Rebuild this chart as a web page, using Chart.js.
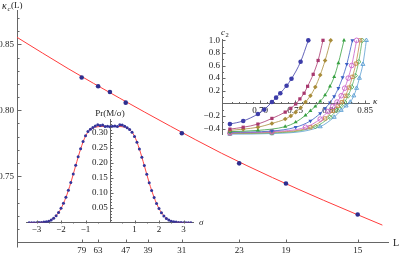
<!DOCTYPE html>
<html>
<head>
<meta charset="utf-8">
<script src="https://cdn.jsdelivr.net/npm/chart.js@4.4.1/dist/chart.umd.min.js"></script>
<style>
  html, body { margin: 0; padding: 0; background: #fff; }
  #wrap { position: relative; width: 401px; height: 254px; overflow: hidden; }
  canvas { position: absolute; }
</style>
</head>
<body>
<div id="wrap">
  <canvas id="mainChart" width="401" height="254" style="left:0;top:0"></canvas>
  <canvas id="prChart" width="212" height="140" style="left:0;top:100px"></canvas>
  <canvas id="c2Chart" width="201" height="120" style="left:200px;top:25px"></canvas>
</div>
<script>
// ---- main plot: kappa_c(L) against 1/L ----
const sizesL = [79, 63, 55, 47, 31, 23, 19, 15];
const kappaC = [0.8248, 0.8182, 0.8139, 0.8058, 0.7826, 0.7598, 0.7445, 0.7210];
const fitInvL = [0, 0.01, 0.02, 0.03, 0.04, 0.05, 0.06, 0.0715];
const fitKappa = [0.8553, 0.8316, 0.8094, 0.7880, 0.7675, 0.7490, 0.7318, 0.7130];
const tickL = [79, 63, 47, 39, 31, 23, 19, 15];
const kappaTicks = [0.75, 0.80, 0.85];
const kappaMinor = [0.71, 0.72, 0.73, 0.74, 0.76, 0.77, 0.78, 0.79, 0.81, 0.82, 0.83, 0.84, 0.86, 0.87];

// ---- inset: Pr(M/sigma) ----
const prX = [-3.3, -3.2, -3.1, -3.0, -2.9, -2.8, -2.7, -2.6, -2.5, -2.4, -2.3, -2.2, -2.1, -2.0,
  -1.9, -1.8, -1.7, -1.6, -1.5, -1.4, -1.3, -1.2, -1.1, -1.0, -0.9, -0.8, -0.7, -0.6, -0.5, -0.4,
  -0.3, -0.2, -0.1, 0.0, 0.1, 0.2, 0.3, 0.4, 0.5, 0.6, 0.7, 0.8, 0.9, 1.0, 1.1, 1.2, 1.3, 1.4,
  1.5, 1.6, 1.7, 1.8, 1.9, 2.0, 2.1, 2.2, 2.3, 2.4, 2.5, 2.6, 2.7, 2.8, 2.9, 3.0, 3.1, 3.2, 3.3];
const prVal = [0.000, 0.000, 0.000, 0.000, 0.001, 0.001, 0.002, 0.003, 0.005, 0.009, 0.015, 0.023, 0.034, 0.048,
  0.065, 0.085, 0.108, 0.134, 0.162, 0.191, 0.219, 0.246, 0.270, 0.289, 0.303, 0.311, 0.317, 0.322, 0.326, 0.323,
  0.325, 0.320, 0.321, 0.319, 0.321, 0.322, 0.320, 0.326, 0.325, 0.321, 0.316, 0.310, 0.301, 0.287, 0.268, 0.245, 0.218, 0.190,
  0.161, 0.133, 0.107, 0.084, 0.064, 0.047, 0.033, 0.022, 0.014, 0.009, 0.005, 0.003, 0.002, 0.001, 0.001, 0.000, 0.000, 0.000, 0.000];
const prFitX = [-3.3, -3.0, -2.6, -2.4, -2.2, -2.0, -1.8, -1.6, -1.4, -1.2, -1.0, -0.8, -0.6, -0.3, 0, 0.3, 0.6, 0.8, 1.0, 1.2, 1.4, 1.6, 1.8, 2.0, 2.2, 2.4, 2.6, 3.0, 3.3];
const prFit = [0, 0.0005, 0.003, 0.009, 0.023, 0.047, 0.084, 0.133, 0.190, 0.245, 0.288, 0.310, 0.318, 0.320, 0.320, 0.320, 0.318, 0.310, 0.288, 0.245, 0.190, 0.133, 0.084, 0.047, 0.023, 0.009, 0.003, 0.0005, 0];
const sigmaTicks = [-3, -2, -1, 1, 2, 3];
const sigmaMinor = [-2.5, -1.5, -0.5, 0.5, 1.5, 2.5];
const prTicks = [0.05, 0.10, 0.15, 0.20, 0.25, 0.30];
const prMinor = [0.01, 0.02, 0.03, 0.04, 0.06, 0.07, 0.08, 0.09, 0.11, 0.12, 0.13, 0.14, 0.16, 0.17, 0.18, 0.19,
  0.21, 0.22, 0.23, 0.24, 0.26, 0.27, 0.28, 0.29, 0.31, 0.32, 0.33, 0.34];

// ---- inset: c2 against kappa, one curve per size ----
const kap1 = [0.657, 0.676, 0.697, 0.706, 0.717, 0.723, 0.729, 0.738, 0.745, 0.758, 0.769];
const c2_1 = [-0.33, -0.28, -0.17, -0.10, 0.02, 0.09, 0.16, 0.28, 0.39, 0.66, 1.00];
const kap2 = [0.657, 0.676, 0.697, 0.717, 0.736, 0.744, 0.751, 0.757, 0.763, 0.768, 0.776, 0.783, 0.790];
const c2_2 = [-0.41, -0.38, -0.33, -0.24, -0.14, -0.08, -0.01, 0.07, 0.16, 0.27, 0.46, 0.68, 1.00];
const kap3 = [0.657, 0.676, 0.697, 0.717, 0.736, 0.744, 0.751, 0.758, 0.765, 0.772, 0.779, 0.786, 0.793, 0.801];
const c2_3 = [-0.43, -0.41, -0.38, -0.32, -0.25, -0.20, -0.14, -0.07, 0.02, 0.12, 0.26, 0.45, 0.68, 1.00];
const kap4 = [0.657, 0.697, 0.736, 0.751, 0.765, 0.772, 0.779, 0.786, 0.793, 0.800, 0.806, 0.812, 0.820];
const c2_4 = [-0.45, -0.43, -0.37, -0.30, -0.19, -0.12, -0.05, 0.03, 0.13, 0.27, 0.42, 0.64, 1.00];
const kap5 = [0.657, 0.717, 0.751, 0.772, 0.786, 0.793, 0.800, 0.806, 0.812, 0.818, 0.824, 0.832];
const c2_5 = [-0.46, -0.44, -0.38, -0.28, -0.16, -0.08, 0.01, 0.11, 0.24, 0.41, 0.62, 1.00];
const kap6 = [0.657, 0.717, 0.765, 0.786, 0.797, 0.804, 0.810, 0.816, 0.821, 0.826, 0.831, 0.838];
const c2_6 = [-0.47, -0.45, -0.38, -0.25, -0.13, -0.05, 0.02, 0.12, 0.24, 0.40, 0.60, 1.00];
const kap7 = [0.657, 0.717, 0.772, 0.793, 0.804, 0.811, 0.817, 0.822, 0.827, 0.832, 0.837, 0.843];
const c2_7 = [-0.475, -0.46, -0.38, -0.24, -0.12, -0.04, 0.02, 0.12, 0.25, 0.42, 0.63, 1.00];
const kap8 = [0.657, 0.717, 0.779, 0.800, 0.810, 0.816, 0.821, 0.826, 0.831, 0.836, 0.841, 0.846];
const c2_8 = [-0.48, -0.47, -0.37, -0.22, -0.11, -0.04, 0.02, 0.12, 0.26, 0.44, 0.66, 1.00];
const kap9 = [0.657, 0.717, 0.786, 0.806, 0.816, 0.823, 0.829, 0.834, 0.838, 0.842, 0.847, 0.852];
const c2_9 = [-0.49, -0.48, -0.37, -0.22, -0.11, -0.04, 0.02, 0.12, 0.24, 0.40, 0.62, 1.00];
const kapTicks = [0.70, 0.75, 0.80, 0.85];
const kapMinor = [0.66, 0.67, 0.68, 0.69, 0.71, 0.72, 0.73, 0.74, 0.76, 0.77, 0.78, 0.79, 0.81, 0.82, 0.83, 0.84];
const c2Ticks = [-0.4, -0.2, 0.2, 0.4, 0.6, 0.8, 1.0];
const c2Minor = [-0.3, -0.1, 0.1, 0.3, 0.5, 0.7, 0.9];

const serif = '"Liberation Serif", "DejaVu Serif", serif';
const axisGray = '#666';
Chart.defaults.font.family = serif;
Chart.defaults.font.size = 9;
Chart.defaults.color = '#222';

const minus = s => s.replace('-', '\u2212');
const pts = (xs, ys) => xs.map((x, i) => ({x: x, y: ys[i]}));

// small tick marks drawn towards the inside, Mathematica style
const inwardTicks = {
  id: 'inwardTicks',
  afterDatasetsDraw(chart, args, opts) {
    const ctx = chart.ctx;
    ctx.save();
    ctx.strokeStyle = axisGray;
    ctx.lineWidth = 1;
    (opts.marks || []).forEach(m => {
      const s = chart.scales[m.scale];
      const base = Math.round(chart.scales[m.across].getPixelForValue(m.at)) + 0.5;
      m.values.forEach(v => {
        const p = Math.round(s.getPixelForValue(v)) + 0.5;
        ctx.beginPath();
        if (s.isHorizontal()) { ctx.moveTo(p, base); ctx.lineTo(p, base - m.len); }
        else { ctx.moveTo(base, p); ctx.lineTo(base + m.len, p); }
        ctx.stroke();
      });
    });
    ctx.restore();
  }
};

// axis captions
const captions = {
  id: 'captions',
  afterDraw(chart, args, opts) {
    const ctx = chart.ctx;
    (opts.items || []).forEach(t => {
      ctx.save();
      ctx.font = t.font;
      ctx.fillStyle = '#222';
      ctx.textAlign = t.align || 'left';
      ctx.textBaseline = 'middle';
      ctx.fillText(t.text, t.x, t.y);
      ctx.restore();
    });
  }
};

const common = {
  responsive: false,
  animation: false,
  devicePixelRatio: 1,
  events: []
};

// main chart
new Chart(document.getElementById('mainChart'), {
  type: 'scatter',
  data: {
    datasets: [
      { data: pts(sizesL.map(L => 1 / L), kappaC), pointRadius: 2.3, pointBackgroundColor: '#2e2e8e', pointBorderWidth: 0 },
      { data: pts(fitInvL, fitKappa), showLine: true, borderColor: '#ff3c3c', borderWidth: 1,
        pointRadius: 0, cubicInterpolationMode: 'monotone' }
    ]
  },
  options: {
    ...common,
    layout: { padding: { top: 10, right: 13, left: 0, bottom: 0 } },
    plugins: {
      legend: { display: false }, tooltip: { enabled: false },
      inwardTicks: { marks: [
        { scale: 'x', across: 'y', at: 0.7002, values: tickL.map(L => 1 / L), len: 3 },
        { scale: 'y', across: 'x', at: 0, values: kappaTicks, len: 4 },
        { scale: 'y', across: 'x', at: 0, values: kappaMinor, len: 2 },
        // short stub of the vertical axis below the crossing
        { scale: 'x', across: 'y', at: 0.7002, values: [0], len: -5 }
      ] },
      captions: { items: [
        { text: '\u03ba', x: 2, y: 6, font: 'italic 10px ' + serif },
        { text: 'c', x: 7.5, y: 9, font: 'italic 7px ' + serif },
        { text: '(L)', x: 11, y: 6, font: '9px ' + serif },
        { text: 'L', x: 393, y: 243, font: '10px ' + serif }
      ] }
    },
    scales: {
      x: {
        type: 'linear', min: 0, max: 0.0726, position: 'bottom',
        grid: { drawOnChartArea: false, drawTicks: false },
        border: { color: axisGray, width: 1 },
        afterBuildTicks: s => { s.ticks = tickL.map(L => ({ value: 1 / L })); },
        afterFit: s => { s.height = 12; },
        ticks: { callback: v => String(Math.round(1 / v)), padding: 3, maxRotation: 0, autoSkip: false }
      },
      y: {
        type: 'linear', min: 0.7002, max: 0.876, position: 'left',
        grid: { drawOnChartArea: false, drawTicks: false },
        border: { color: axisGray, width: 1 },
        afterBuildTicks: s => { s.ticks = kappaTicks.map(v => ({ value: v })); },
        afterFit: s => { s.width = 17; },
        ticks: { callback: v => v.toFixed(2), padding: 3 }
      }
    }
  },
  plugins: [inwardTicks, captions]
});

// Pr inset
new Chart(document.getElementById('prChart'), {
  type: 'scatter',
  data: {
    datasets: [
      { data: pts(prX, prVal), pointRadius: 1.5, pointBackgroundColor: '#34349a', pointBorderWidth: 0 },
      { data: pts(prFitX, prFit), showLine: true, borderColor: '#ff4646', borderWidth: 1,
        pointRadius: 0, cubicInterpolationMode: 'monotone' }
    ]
  },
  options: {
    ...common,
    layout: { padding: { left: 26.7, right: 18.7, top: 19, bottom: 17.3 } },
    plugins: {
      legend: { display: false }, tooltip: { enabled: false },
      inwardTicks: { marks: [
        { scale: 'x', across: 'y', at: 0, values: sigmaTicks, len: 3 },
        { scale: 'x', across: 'y', at: 0, values: sigmaMinor, len: 1.5 },
        { scale: 'y', across: 'x', at: 0, values: prTicks, len: 3 },
        { scale: 'y', across: 'x', at: 0, values: prMinor, len: 1.5 }
      ] },
      captions: { items: [
        { text: 'Pr(M/\u03c3)', x: 110, y: 14, font: '9px ' + serif, align: 'center' },
        { text: '\u03c3', x: 199, y: 123, font: 'italic 9px ' + serif }
      ] }
    },
    scales: {
      x: {
        type: 'linear', min: -3.4, max: 3.4, position: { y: 0 },
        grid: { drawOnChartArea: false, drawTicks: false },
        border: { color: axisGray, width: 1 },
        afterBuildTicks: s => { s.ticks = sigmaTicks.map(v => ({ value: v })); },
        ticks: { callback: v => minus(String(v)), padding: 2, maxRotation: 0, autoSkip: false }
      },
      y: {
        type: 'linear', min: 0, max: 0.345, position: { x: 0 },
        grid: { drawOnChartArea: false, drawTicks: false },
        border: { color: axisGray, width: 1 },
        afterBuildTicks: s => { s.ticks = prTicks.map(v => ({ value: v })); },
        ticks: { callback: v => v.toFixed(2) + ' ' }
      }
    }
  },
  plugins: [inwardTicks, captions]
});

// c2 inset
const c2Series = [
  { k: kap1, c: c2_1, color: '#3c3ca8', style: 'circle', fill: true },
  { k: kap2, c: c2_2, color: '#a8386e', style: 'rect', fill: true },
  { k: kap3, c: c2_3, color: '#a88c3a', style: 'rectRot', fill: true },
  { k: kap4, c: c2_4, color: '#36a040', style: 'triangle', fill: true },
  { k: kap5, c: c2_5, color: '#3a5ec4', style: 'triangle', rot: 180, fill: true },
  { k: kap6, c: c2_6, color: '#c860c8', style: 'circle', fill: false },
  { k: kap7, c: c2_7, color: '#c88c4c', style: 'rect', fill: false },
  { k: kap8, c: c2_8, color: '#5cae5c', style: 'rectRot', fill: false },
  { k: kap9, c: c2_9, color: '#5a9ed2', style: 'triangle', fill: false }
];

new Chart(document.getElementById('c2Chart'), {
  type: 'scatter',
  data: {
    datasets: c2Series.map(s => ({
      data: pts(s.k, s.c),
      showLine: true,
      borderColor: s.color,
      borderWidth: 0.8,
      cubicInterpolationMode: 'monotone',
      pointStyle: s.style,
      pointRotation: s.rot || 0,
      pointRadius: 2.3,
      pointBackgroundColor: s.fill ? s.color : 'rgba(255,255,255,0)',
      pointBorderColor: s.color,
      pointBorderWidth: s.fill ? 0 : 0.9,
      clip: false
    }))
  },
  options: {
    ...common,
    layout: { padding: { left: 22.2, right: 31.1, top: 14.7, bottom: 10.2 } },
    plugins: {
      legend: { display: false }, tooltip: { enabled: false },
      inwardTicks: { marks: [
        { scale: 'x', across: 'y', at: 0, values: kapTicks, len: 3 },
        { scale: 'x', across: 'y', at: 0, values: kapMinor, len: 1.5 },
        { scale: 'y', across: 'x', at: 0.646, values: c2Ticks, len: 3 },
        { scale: 'y', across: 'x', at: 0.646, values: c2Minor, len: 1.5 }
      ] },
      captions: { items: [
        { text: 'c', x: 21, y: 8, font: 'italic 9px ' + serif },
        { text: '2', x: 25.5, y: 10, font: '6.5px ' + serif },
        { text: '\u03ba', x: 173, y: 77, font: 'italic 9px ' + serif }
      ] }
    },
    scales: {
      x: {
        type: 'linear', min: 0.646, max: 0.857, position: { y: 0 },
        grid: { drawOnChartArea: false, drawTicks: false },
        border: { color: axisGray, width: 1 },
        afterBuildTicks: s => { s.ticks = kapTicks.map(v => ({ value: v })); },
        ticks: { callback: v => v.toFixed(2), padding: 2, maxRotation: 0, autoSkip: false }
      },
      y: {
        type: 'linear', min: -0.5, max: 1.01, position: { x: 0.646 },
        grid: { drawOnChartArea: false, drawTicks: false },
        border: { color: axisGray, width: 1 },
        afterBuildTicks: s => { s.ticks = c2Ticks.map(v => ({ value: v })); },
        ticks: { callback: v => minus(v.toFixed(1)) + ' ' }
      }
    }
  },
  plugins: [inwardTicks, captions]
});
</script>
</body>
</html>
